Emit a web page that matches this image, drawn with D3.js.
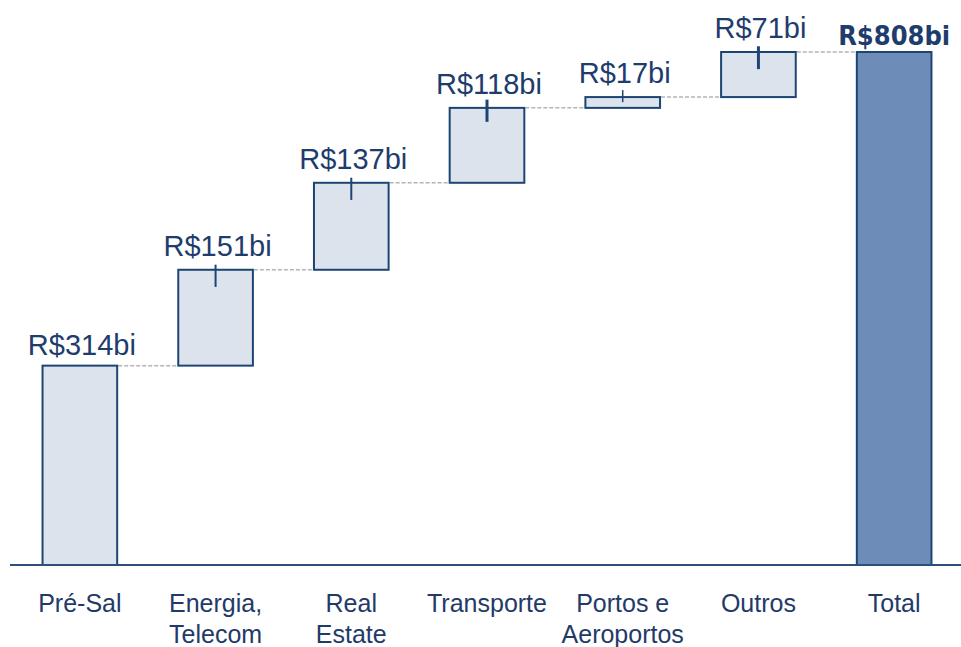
<!DOCTYPE html>
<html>
<head>
<meta charset="utf-8">
<script src="https://cdn.jsdelivr.net/npm/d3@7"></script>
<style>
  body { margin: 0; background: #fff; }
  svg { display: block; }
</style>
</head>
<body>
<div id="chart"></div>
<script>
// chart values
var categories = ["Pré-Sal", "Energia, Telecom", "Real Estate", "Transporte", "Portos e Aeroportos", "Outros", "Total"];
var categoryLines = [["Pré-Sal"], ["Energia,", "Telecom"], ["Real", "Estate"], ["Transporte"], ["Portos e", "Aeroportos"], ["Outros"], ["Total"]];
var values = [314, 151, 137, 118, 17, 71, 808];
var valueLabels = ["R$314bi", "R$151bi", "R$137bi", "R$118bi", "R$17bi", "R$71bi", "R$808bi"];
// uncertainty marks at the top of each step (in R$ bi, above / below the top)
var errUp = [null, 8, 8, 13, 11, 9, null];
var errDown = [null, 27, 27, 22, 8, 27, null];

var svgWidth = 961;
var svgHeight = 647;
var baseY = 565;

var svg = d3.select("#chart")
    .append("svg")
    .attr("width", svgWidth)
    .attr("height", svgHeight);

// build waterfall steps
var running = 0;
var steps = categories.map(function (c, i) {
    var isTotal = i === categories.length - 1;
    var start = isTotal ? 0 : running;
    var end = isTotal ? values[i] : running + values[i];
    if (!isTotal) running = end;
    return { cat: c, i: i, start: start, end: end, total: isTotal, first: i === 0 };
});

var xScale = d3.scaleBand()
    .domain(categories)
    .range([12, 962])
    .paddingInner(0.45)
    .paddingOuter(0.225);

var yScale = d3.scaleLinear()
    .domain([0, 808])
    .range([baseY, 52]);

var tickWidths = [0, 2, 2, 3, 1.5, 3, 0];

// dashed connectors
svg.append("g").selectAll("line")
    .data(steps.slice(0, -1))
    .enter()
    .append("line")
    .attr("x1", d => xScale(d.cat) + xScale.bandwidth() + 1)
    .attr("x2", d => xScale(categories[d.i + 1]) - 1)
    .attr("y1", d => yScale(d.end))
    .attr("y2", d => yScale(d.end))
    .attr("stroke", "#b4b4b8")
    .attr("stroke-width", 1.5)
    .attr("stroke-dasharray", "4,2");

// bars
svg.append("g").selectAll("rect")
    .data(steps)
    .enter()
    .append("rect")
    .attr("x", d => xScale(d.cat))
    .attr("width", xScale.bandwidth())
    .attr("y", d => yScale(d.end))
    .attr("height", d => yScale(d.start) - yScale(d.end))
    .attr("fill", d => d.total ? "#6d8db8" : "#dde3ed")
    .attr("stroke", "#1c4573")
    .attr("stroke-width", 2);

// uncertainty ticks
svg.append("g").selectAll("line")
    .data(steps.filter(d => errUp[d.i] !== null))
    .enter()
    .append("line")
    .attr("x1", d => xScale(d.cat) + xScale.bandwidth() / 2)
    .attr("x2", d => xScale(d.cat) + xScale.bandwidth() / 2)
    .attr("y1", d => yScale(d.end + errUp[d.i]))
    .attr("y2", d => yScale(d.end - errDown[d.i]))
    .attr("stroke", "#1c4573")
    .attr("stroke-width", d => tickWidths[d.i]);

// baseline
svg.append("line")
    .attr("x1", 10)
    .attr("x2", svgWidth)
    .attr("y1", baseY)
    .attr("y2", baseY)
    .attr("stroke", "#2c5078")
    .attr("stroke-width", 2);

// value labels
svg.append("g").selectAll("text")
    .data(steps)
    .enter()
    .append("text")
    .attr("x", d => xScale(d.cat) + xScale.bandwidth() / 2 + (d.total ? 0 : 2))
    .attr("y", d => yScale(d.end) - (d.total ? 7 : (d.first ? 11 : 14)))
    .attr("text-anchor", "middle")
    .attr("font-family", d => d.total ? "'DejaVu Sans Condensed', 'DejaVu Sans', sans-serif" : "'Liberation Sans', Arial, sans-serif")
    .attr("font-weight", d => d.total ? "bold" : "normal")
    .attr("font-size", d => d.total ? "27px" : "29px")
    .attr("fill", "#1e3c6c")
    .text(d => valueLabels[d.i]);

// category labels
var catText = svg.append("g").selectAll("text")
    .data(steps)
    .enter()
    .append("text")
    .attr("x", d => xScale(d.cat) + xScale.bandwidth() / 2)
    .attr("y", 612)
    .attr("text-anchor", "middle")
    .attr("font-family", "'Liberation Sans', Arial, sans-serif")
    .attr("font-size", "25px")
    .attr("fill", "#233a68");

catText.selectAll("tspan")
    .data(d => categoryLines[d.i])
    .enter()
    .append("tspan")
    .attr("x", function () { return d3.select(this.parentNode).attr("x"); })
    .attr("dy", (d, j) => j === 0 ? 0 : 31)
    .text(d => d);
</script>
</body>
</html>
